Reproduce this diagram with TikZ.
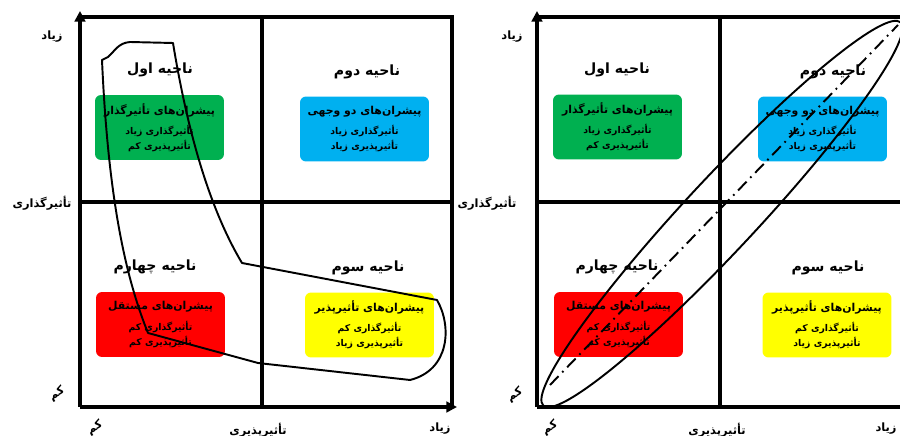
\documentclass[tikz,border=0pt]{standalone}
\usepackage{fontspec}
\newfontfamily\faFont[Script=Arabic]{DejaVu Sans}
\TeXXeTstate=1
\usetikzlibrary{arrows.meta}
\definecolor{cgreen}{HTML}{00B050}
\definecolor{cblue}{HTML}{00B0F0}
\definecolor{cred}{HTML}{FF0000}
\definecolor{cyellow}{HTML}{FFFF00}
\newcommand{\btitle}{\fontsize{6.2}{8}\selectfont}

\begin{document}
\begin{tikzpicture}[x=0.02cm, y=0.02cm,
    axis/.style={line width=2.3pt},
    arrowaxis/.style={axis, -{Triangle[length=6pt,width=6pt]}},
    curve/.style={line width=1.1pt, line join=round},
    dashdot/.style={line width=1.1pt, dash pattern=on 7pt off 3pt on 1pt off 3pt},
    region/.style={font=\faFont\bfseries\fontsize{8}{10}\selectfont},
    axislabel/.style={font=\faFont\bfseries\fontsize{6.5}{8}\selectfont},
    drivers/.style={rounded corners=0.12cm, minimum width=2.58cm,
      minimum height=1.3cm, inner sep=0pt, align=center,
      font=\faFont\bfseries\fontsize{5.3}{8.5}\selectfont}]
  \useasboundingbox (0,0) rectangle (900,436);

  % left panel
  \draw[axis] (80,419) -- (452,419) -- (452,29);
  \draw[axis] (262,29) -- (262,419);
  \draw[axis] (80,234) -- (452,234);
  \draw[arrowaxis] (80,29) -- (80,425);
  \draw[arrowaxis] (80,29) -- (457,29);

  \node[axislabel] (hiyL) at (52,399) {\beginR زیاد\endR};
  \node[axislabel] (infL) at (42,233) {\beginR تأثیرگذاری\endR};
  \node[axislabel, rotate=30] (loyL) at (57,42) {\beginR کم\endR};
  \node[axislabel, rotate=30] (loxL) at (95,8) {\beginR کم\endR};
  \node[axislabel] (depL) at (258,6) {\beginR تأثیرپذیری\endR};
  \node[axislabel] (hixL) at (440,7) {\beginR زیاد\endR};

  \node[region] (r1L) at (160,366) {\beginR ناحیه اول\endR};
  \node[region] (r2L) at (367,364) {\beginR ناحیه دوم\endR};
  \node[region] (r4L) at (155,169) {\beginR ناحیه چهارم\endR};
  \node[region] (r3L) at (368,168) {\beginR ناحیه سوم\endR};

  \node[drivers, fill=cgreen] (gL) at (159.5,308.5)
    {{\btitle\beginR پیشران‌های تأثیرگذار\endR}\\[3pt]
     \beginR تأثیرگذاری زیاد\endR\\\beginR تأثیرپذیری کم\endR};
  \node[drivers, fill=cblue] (bL) at (364.5,307)
    {{\btitle\beginR پیشران‌های دو وجهی\endR}\\[3pt]
     \beginR تأثیرگذاری زیاد\endR\\\beginR تأثیرپذیری زیاد\endR};
  \node[drivers, fill=cred] (rL) at (160.5,111.5)
    {{\btitle\beginR پیشران‌های مستقل\endR}\\[3pt]
     \beginR تأثیرگذاری کم\endR\\\beginR تأثیرپذیری کم\endR};
  \node[drivers, fill=cyellow] (yL) at (369.5,111)
    {{\btitle\beginR پیشران‌های تأثیرپذیر\endR}\\[3pt]
     \beginR تأثیرگذاری کم\endR\\\beginR تأثیرپذیری زیاد\endR};

  \draw[curve] (102,376) -- (108,379) .. controls (115,385) and (118,393) .. (130,394)
    -- (173,393) .. controls (185,320) and (205,235) .. (242,173)
    -- (437,136) .. controls (452,110) and (450,66) .. (410,56)
    -- (258,73) -- (148,103) .. controls (125,160) and (108,240) .. (102,376) -- cycle;

  % right panel
  \draw[axis] (537,419) -- (909,419) -- (909,29);
  \draw[axis] (720,29) -- (720,419);
  \draw[axis] (537,234) -- (909,234);
  \draw[arrowaxis] (537,29) -- (537,425);
  \draw[arrowaxis] (537,29) -- (914,29);

  \node[axislabel] (hiyR) at (512,399) {\beginR زیاد\endR};
  \node[axislabel] (infR) at (487,233) {\beginR تأثیرگذاری\endR};
  \node[axislabel, rotate=30] (loyR) at (515,41) {\beginR کم\endR};
  \node[axislabel, rotate=30] (loxR) at (550,8) {\beginR کم\endR};
  \node[axislabel] (depR) at (717,6) {\beginR تأثیرپذیری\endR};
  \node[axislabel] (hixR) at (886,7) {\beginR زیاد\endR};

  \node[region] (r1R) at (617,366) {\beginR ناحیه اول\endR};
  \node[region] (r2R) at (833,364) {\beginR ناحیه دوم\endR};
  \node[region] (r4R) at (617,169) {\beginR ناحیه چهارم\endR};
  \node[region] (r3R) at (828,168) {\beginR ناحیه سوم\endR};

  \node[drivers, fill=cgreen] (gR) at (617.5,309)
    {{\btitle\beginR پیشران‌های تأثیرگذار\endR}\\[3pt]
     \beginR تأثیرگذاری زیاد\endR\\\beginR تأثیرپذیری کم\endR};
  \node[drivers, fill=cblue] (bR) at (822.5,307)
    {{\btitle\beginR پیشران‌های دو وجهی\endR}\\[3pt]
     \beginR تأثیرگذاری زیاد\endR\\\beginR تأثیرپذیری زیاد\endR};
  \node[drivers, fill=cred] (rR) at (618.5,111.5)
    {{\btitle\beginR پیشران‌های مستقل\endR}\\[3pt]
     \beginR تأثیرگذاری کم\endR\\\beginR تأثیرپذیری کم\endR};
  \node[drivers, fill=cyellow] (yR) at (827,111)
    {{\btitle\beginR پیشران‌های تأثیرپذیر\endR}\\[3pt]
     \beginR تأثیرگذاری کم\endR\\\beginR تأثیرپذیری زیاد\endR};

  \coordinate (ec) at (722,222);
  \draw[curve, rotate around={47:(ec)}] (ec) ellipse [x radius=262, y radius=36];
  \coordinate (dA) at (550,51);
  \coordinate (dB) at (898,411);
  \draw[dashdot] (dA) -- (dB);
\end{tikzpicture}
\end{document}
